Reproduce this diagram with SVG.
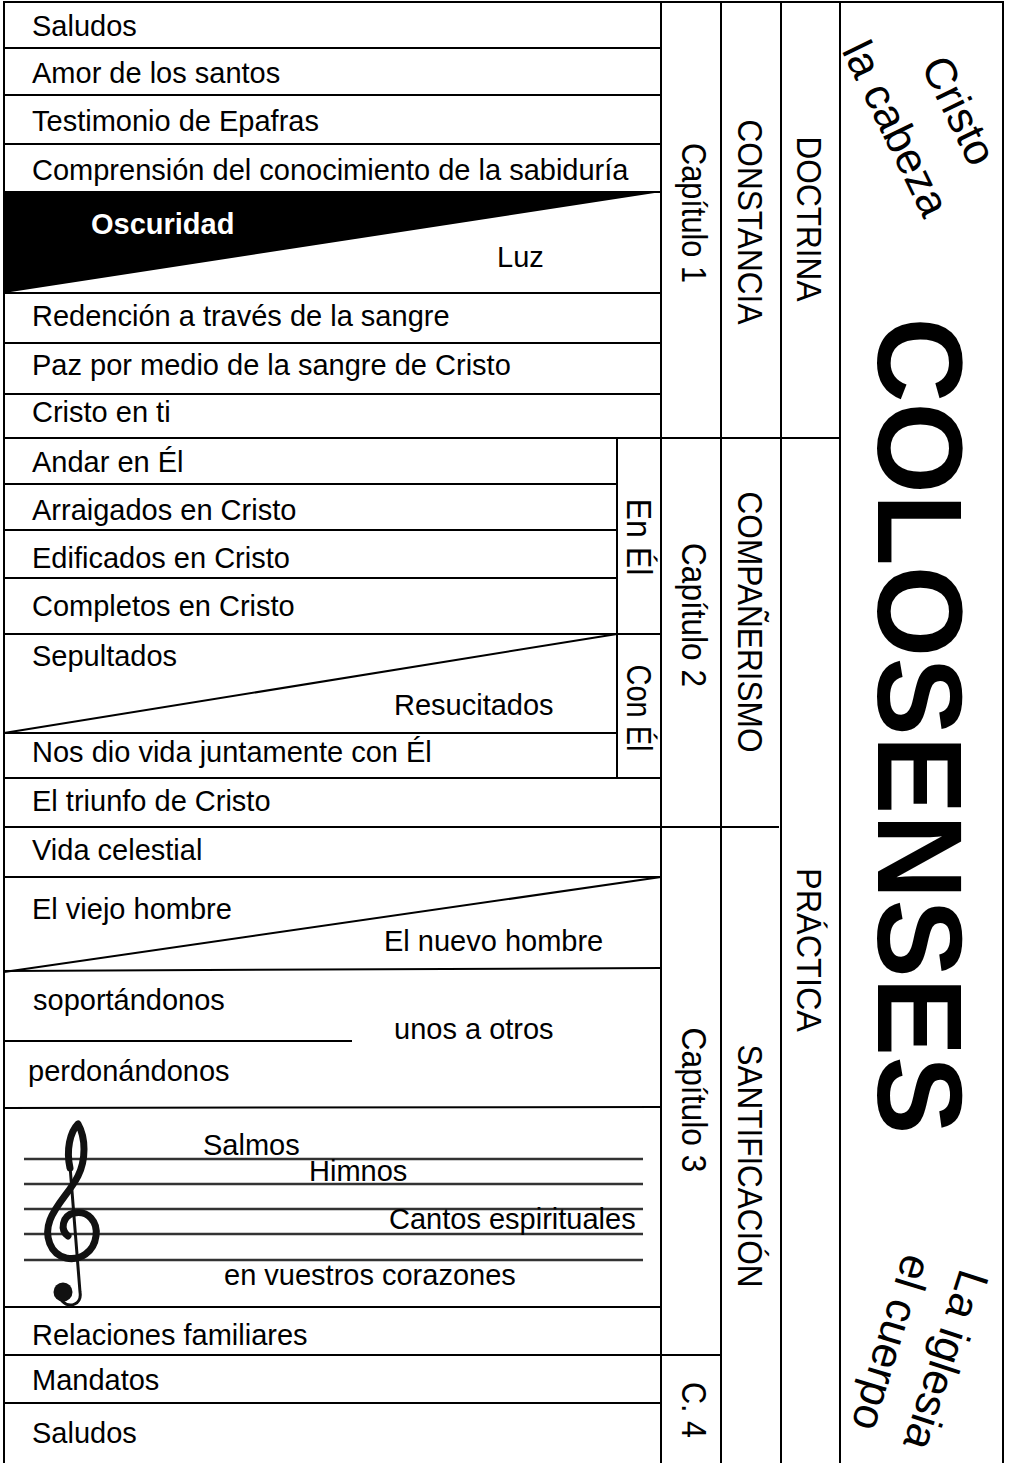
<svg xmlns="http://www.w3.org/2000/svg" width="1009" height="1463" viewBox="0 0 1009 1463">
<style>
  text { font-family: "Liberation Sans", Arial, sans-serif; fill: #000; }
  .row { font-size: 29px; }
  .col { font-size: 35px; }
  .big { font-size: 120px; font-weight: bold; }
  .diag { font-size: 44px; }
  .ln { stroke: #000; stroke-width: 2; fill: none; }
  .staff { stroke: #333; stroke-width: 2.5; fill: none; }
</style>
<rect x="0" y="0" width="1009" height="1463" fill="#fff"/>

<g id="connectors">
  <!-- outer frame -->
  <line class="ln" x1="4" y1="2" x2="1004" y2="2"/>
  <line class="ln" x1="4" y1="1" x2="4" y2="1463"/>
  <line class="ln" x1="1003" y1="1" x2="1003" y2="1463"/>
  <!-- column lines -->
  <line class="ln" x1="661" y1="1" x2="661" y2="1463"/>
  <line class="ln" x1="721" y1="1" x2="721" y2="1463"/>
  <line class="ln" x1="781" y1="1" x2="781" y2="1463"/>
  <line class="ln" x1="840" y1="1" x2="840" y2="1463"/>
  <line class="ln" x1="617" y1="438" x2="617" y2="778"/>
  <!-- chapter 1 rows -->
  <line class="ln" x1="4" y1="48" x2="661" y2="48"/>
  <line class="ln" x1="4" y1="95" x2="661" y2="95"/>
  <line class="ln" x1="4" y1="144" x2="661" y2="144"/>
  <line class="ln" x1="4" y1="192" x2="661" y2="192"/>
  <line class="ln" x1="4" y1="293" x2="661" y2="293"/>
  <line class="ln" x1="4" y1="343" x2="661" y2="343"/>
  <line class="ln" x1="4" y1="394" x2="661" y2="394"/>
  <line class="ln" x1="4" y1="438" x2="840" y2="438"/>
  <!-- chapter 2 rows -->
  <line class="ln" x1="4" y1="484" x2="617" y2="484"/>
  <line class="ln" x1="4" y1="530" x2="617" y2="530"/>
  <line class="ln" x1="4" y1="578" x2="617" y2="578"/>
  <line class="ln" x1="4" y1="634" x2="661" y2="634"/>
  <line class="ln" x1="4" y1="733" x2="617" y2="634"/>
  <line class="ln" x1="4" y1="733" x2="617" y2="733"/>
  <line class="ln" x1="4" y1="778" x2="661" y2="778"/>
  <line class="ln" x1="4" y1="827" x2="779" y2="827"/>
  <!-- chapter 3 rows -->
  <line class="ln" x1="4" y1="877" x2="661" y2="877"/>
  <line class="ln" x1="4" y1="972" x2="661" y2="877"/>
  <line class="ln" x1="4" y1="971" x2="661" y2="968"/>
  <line class="ln" x1="4" y1="1041" x2="352" y2="1041"/>
  <line class="ln" x1="4" y1="1108" x2="661" y2="1107"/>
  <line class="ln" x1="4" y1="1307" x2="661" y2="1307"/>
  <line class="ln" x1="4" y1="1355" x2="721" y2="1355"/>
  <line class="ln" x1="4" y1="1403" x2="661" y2="1403"/>
</g>

<g id="chapter1-rows">
  <g id="n-saludos1"><text class="row" x="32" y="36">Saludos</text></g>
  <g id="n-amor"><text class="row" x="32" y="83">Amor de los santos</text></g>
  <g id="n-testimonio"><text class="row" x="32" y="131">Testimonio de Epafras</text></g>
  <g id="n-comprension"><text class="row" x="32" y="180">Comprensión del conocimiento de la sabiduría</text></g>
  <g id="n-oscuridad">
    <polygon points="4,192 661,192 4,293" fill="#000"/>
    <text class="row" x="91" y="234" font-weight="bold" style="fill:#fff">Oscuridad</text>
    <text class="row" x="497" y="267">Luz</text>
  </g>
  <g id="n-redencion"><text class="row" x="32" y="326">Redención a través de la sangre</text></g>
  <g id="n-paz"><text class="row" x="32" y="375">Paz por medio de la sangre de Cristo</text></g>
  <g id="n-cristo-en-ti"><text class="row" x="32" y="422">Cristo en ti</text></g>
</g>

<g id="chapter2-rows">
  <g id="n-andar"><text class="row" x="32" y="472">Andar en Él</text></g>
  <g id="n-arraigados"><text class="row" x="32" y="520">Arraigados en Cristo</text></g>
  <g id="n-edificados"><text class="row" x="32" y="568">Edificados en Cristo</text></g>
  <g id="n-completos"><text class="row" x="32" y="616">Completos en Cristo</text></g>
  <g id="n-sepultados">
    <text class="row" x="32" y="666">Sepultados</text>
    <text class="row" x="394" y="715">Resucitados</text>
  </g>
  <g id="n-nos-dio-vida"><text class="row" x="32" y="762">Nos dio vida juntamente con Él</text></g>
  <g id="n-triunfo"><text class="row" x="32" y="811">El triunfo de Cristo</text></g>
</g>

<g id="chapter3-rows">
  <g id="n-vida-celestial"><text class="row" x="32" y="860">Vida celestial</text></g>
  <g id="n-hombre">
    <text class="row" x="32" y="919">El viejo hombre</text>
    <text class="row" x="384" y="951">El nuevo hombre</text>
  </g>
  <g id="n-unos-a-otros">
    <text class="row" x="33" y="1010">soportándonos</text>
    <text class="row" x="394" y="1039">unos a otros</text>
    <text class="row" x="28" y="1081">perdonándonos</text>
  </g>
  <g id="n-musica">
    <line class="staff" x1="24" y1="1159" x2="643" y2="1159"/>
    <line class="staff" x1="24" y1="1184" x2="643" y2="1184"/>
    <line class="staff" x1="24" y1="1209" x2="643" y2="1209"/>
    <line class="staff" x1="24" y1="1234" x2="643" y2="1234"/>
    <line class="staff" x1="24" y1="1260" x2="643" y2="1260"/>
    <g id="treble-clef" fill="none" stroke="#111" stroke-linecap="round" stroke-linejoin="round">
      <path d="M68,1236 C60,1230 62,1216 74,1213 C88,1210 98,1222 96,1236 C94,1252 80,1261 66,1258 C50,1254 44,1236 50,1220 C56,1204 70,1192 78,1176 C86,1160 86,1138 78,1124 C70,1132 66,1150 70,1168" stroke-width="7"/>
      <path d="M70,1166 L80,1292 C82,1304 70,1309 62,1301" stroke-width="3"/>
      <circle cx="63" cy="1292" r="9.5" fill="#111" stroke="none"/>
    </g>
    <text class="row" x="203" y="1155">Salmos</text>
    <text class="row" x="309" y="1181">Himnos</text>
    <text class="row" x="389" y="1229">Cantos espirituales</text>
    <text class="row" x="224" y="1285">en vuestros corazones</text>
  </g>
  <g id="n-relaciones"><text class="row" x="32" y="1345">Relaciones familiares</text></g>
</g>

<g id="chapter4-rows">
  <g id="n-mandatos"><text class="row" x="32" y="1390">Mandatos</text></g>
  <g id="n-saludos2"><text class="row" x="32" y="1443">Saludos</text></g>
</g>

<g id="columns">
  <g id="n-cap1"><text class="col" transform="translate(691,213) rotate(90)" y="9" text-anchor="middle" textLength="140" lengthAdjust="spacingAndGlyphs">Capítulo 1</text></g>
  <g id="n-constancia"><text class="col" transform="translate(751,222) rotate(90)" y="13" text-anchor="middle" textLength="205" lengthAdjust="spacingAndGlyphs">CONSTANCIA</text></g>
  <g id="n-doctrina"><text class="col" transform="translate(810,219) rotate(90)" y="13" text-anchor="middle" textLength="165" lengthAdjust="spacingAndGlyphs">DOCTRINA</text></g>
  <g id="n-en-el"><text class="col" transform="translate(639,537) rotate(90)" y="12" text-anchor="middle" textLength="77" lengthAdjust="spacingAndGlyphs">En Él</text></g>
  <g id="n-con-el"><text class="col" transform="translate(639,708) rotate(90)" y="12" text-anchor="middle" textLength="87" lengthAdjust="spacingAndGlyphs">Con Él</text></g>
  <g id="n-cap2"><text class="col" transform="translate(691,615) rotate(90)" y="9" text-anchor="middle" textLength="144" lengthAdjust="spacingAndGlyphs">Capítulo 2</text></g>
  <g id="n-companerismo"><text class="col" transform="translate(751,622) rotate(90)" y="13" text-anchor="middle" textLength="261" lengthAdjust="spacingAndGlyphs">COMPAÑERISMO</text></g>
  <g id="n-practica"><text class="col" transform="translate(810,950) rotate(90)" y="13" text-anchor="middle" textLength="164" lengthAdjust="spacingAndGlyphs">PRÁCTICA</text></g>
  <g id="n-cap3"><text class="col" transform="translate(691,1100) rotate(90)" y="9" text-anchor="middle" textLength="145" lengthAdjust="spacingAndGlyphs">Capítulo 3</text></g>
  <g id="n-santificacion"><text class="col" transform="translate(751,1166) rotate(90)" y="13" text-anchor="middle" textLength="243" lengthAdjust="spacingAndGlyphs">SANTIFICACIÓN</text></g>
  <g id="n-c4"><text class="col" transform="translate(691,1410) rotate(90)" y="9" text-anchor="middle" textLength="56" lengthAdjust="spacingAndGlyphs">C. 4</text></g>
</g>

<g id="title">
  <g id="n-cristo-cabeza">
    <text class="diag" transform="translate(960,110) rotate(64)" y="16" text-anchor="middle">Cristo</text>
    <text class="diag" transform="translate(897,128) rotate(64)" y="16" text-anchor="middle">la cabeza</text>
  </g>
  <g id="n-colosenses"><text class="big" transform="translate(878,726) rotate(90)" text-anchor="middle" textLength="817" lengthAdjust="spacingAndGlyphs">COLOSENSES</text></g>
  <g id="n-iglesia-cuerpo">
    <text class="diag" transform="translate(945,1360) rotate(108)" y="14" text-anchor="middle">La iglesia</text>
    <text class="diag" transform="translate(889,1342) rotate(107)" y="12" text-anchor="middle">el cuerpo</text>
  </g>
</g>
</svg>
